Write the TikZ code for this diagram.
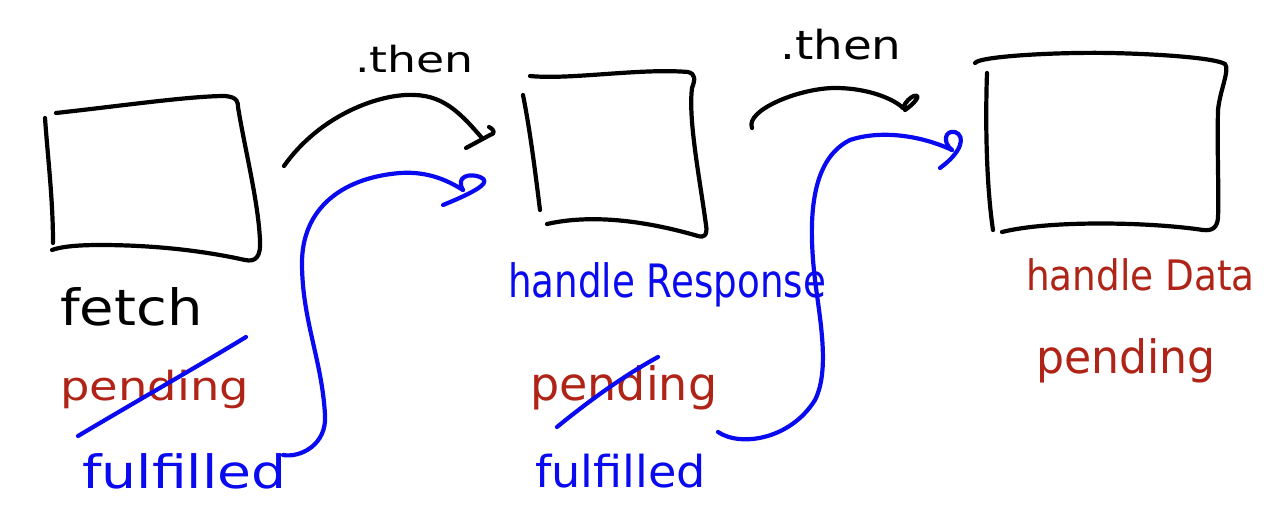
\documentclass[tikz,border=0pt]{standalone}
\usepackage{fontspec}
\setmainfont{DejaVu Sans}
\definecolor{inkred}{HTML}{B02418}
\definecolor{inkblue}{HTML}{0A0AF0}
\begin{document}
\begin{tikzpicture}[x=1pt,y=-1pt,
  ink/.style={line width=4.2pt, line cap=round, line join=round},
  hand/.style={inner sep=0pt, anchor=base west}]
\useasboundingbox (0,0) rectangle (1266,516);

% ---- boxes ----
\draw[ink] (56,113) .. controls (120,106) and (190,96) .. (225,96) .. controls (238,97) and (238,103) .. (238,107)
  .. controls (245,150) and (258,200) .. (260,240) .. controls (261,258) and (255,262) .. (245,260)
  .. controls (200,250) and (150,245) .. (100,245) .. controls (75,245) and (60,247) .. (52,250);
\draw[ink] (45,118) .. controls (48,160) and (53,200) .. (53,243);

\draw[ink] (530,76) .. controls (570,80) and (640,68) .. (688,72) .. controls (696,74) and (695,80) .. (692,88)
  .. controls (688,120) and (700,180) .. (706,225) .. controls (708,236) and (703,238) .. (698,236)
  .. controls (660,225) and (600,212) .. (547,224);
\draw[ink] (523,95) .. controls (530,130) and (535,170) .. (540,210);

\draw[ink] (975,63) .. controls (980,56) and (1060,52) .. (1110,53) .. controls (1160,54) and (1215,58) .. (1225,64)
  .. controls (1230,70) and (1220,90) .. (1218,110) .. controls (1217,150) and (1219,190) .. (1218,218)
  .. controls (1217,228) and (1212,231) .. (1203,230) .. controls (1150,222) and (1050,220) .. (1002,232);
\draw[ink] (987,73) .. controls (985,130) and (987,190) .. (993,230);

% ---- texts ----
\node[hand, font=\fontsize{50}{50}\selectfont, xscale=1.12] (fetch) at (60,325) {fetch};
\node[hand, text=inkred, font=\fontsize{40}{40}\selectfont, xscale=1.16] (pend1) at (60,400) {pending};
\node[hand, text=inkblue, font=\fontsize{46}{46}\selectfont, xscale=1.2] (ful1) at (82,488) {fulf{}illed};
\node[hand, font=\fontsize{36}{36}\selectfont, xscale=1.27] (then1) at (355,73) {.then};
\node[hand, text=inkblue, font=\fontsize{46}{46}\selectfont, xscale=0.81] (hresp) at (508,297) {handle Response};
\node[hand, text=inkred, font=\fontsize{46}{46}\selectfont, xscale=1.0] (pend2) at (530,400) {pending};
\node[hand, text=inkblue, font=\fontsize{44}{44}\selectfont, xscale=1.05] (ful2) at (535,487) {fulf{}illed};
\node[hand, font=\fontsize{40}{40}\selectfont, xscale=1.17] (then2) at (780,60) {.then};
\node[hand, text=inkred, font=\fontsize{42}{42}\selectfont, xscale=0.89] (hdata) at (1026,290) {handle Data};
\node[hand, text=inkred, font=\fontsize{46}{46}\selectfont, xscale=0.96] (pend3) at (1036,373) {pending};

% ---- strike-throughs ----
\coordinate (s1a) at (78,436); \coordinate (s1b) at (246,337);
\draw[ink, inkblue] (s1a) .. controls (130,405) and (200,365) .. (s1b);
\coordinate (s2a) at (557,427); \coordinate (s2b) at (658,357);
\draw[ink, inkblue] (s2a) .. controls (590,400) and (625,375) .. (s2b);

% ---- connectors ----
\coordinate (a1s) at (284,166); \coordinate (a1e) at (482,138);
\draw[ink] (a1s) .. controls (320,115) and (380,93) .. (415,95) .. controls (445,96) and (462,115) .. (a1e);
\draw[ink] (489,127) .. controls (495,130) and (495,134) .. (490,135) -- (466,148);

\coordinate (b1s) at (283,455); \coordinate (b1e) at (463,190);
\draw[ink, inkblue] (b1s) .. controls (300,458) and (327,445) .. (325,415) .. controls (322,360) and (302,320) .. (302,263)
  .. controls (302,210) and (340,178) .. (400,173) .. controls (430,171) and (450,182) .. (b1e);
\draw[ink, inkblue] (b1e) .. controls (455,176) and (470,173) .. (480,177) .. controls (490,181) and (485,188) .. (443,205);

\coordinate (a2s) at (752,128); \coordinate (a2e) at (903,108);
\draw[ink] (a2s) .. controls (745,110) and (800,88) .. (835,88) .. controls (870,88) and (895,100) .. (a2e);
\draw[ink] (a2e) .. controls (908,95) and (922,92) .. (916,100) .. controls (913,104) and (908,108) .. (905,110);

\coordinate (b2s) at (718,432); \coordinate (b2e) at (952,150);
\draw[ink, inkblue] (b2s) .. controls (740,447) and (790,440) .. (815,400) .. controls (830,370) and (820,320) .. (815,280)
  .. controls (808,220) and (810,160) .. (850,140) .. controls (880,130) and (920,135) .. (b2e);
\draw[ink, inkblue] (b2e) .. controls (942,142) and (945,130) .. (955,132) .. controls (966,136) and (962,152) .. (940,168);
\end{tikzpicture}
\end{document}
